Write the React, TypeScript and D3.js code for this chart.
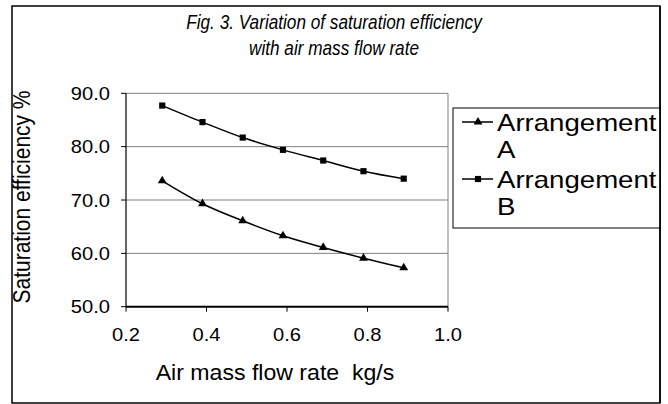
import React from "react";
import * as d3 from "d3";

const flowRate = [0.29, 0.39, 0.49, 0.59, 0.69, 0.79, 0.89];
const arrangementA = [73.6, 69.3, 66.1, 63.3, 61.1, 59.1, 57.3];
const arrangementB = [87.7, 84.6, 81.7, 79.4, 77.4, 75.4, 74.0];
const xTicks = [0.2, 0.4, 0.6, 0.8, 1.0];
const yTicks = [50, 60, 70, 80, 90];
const titleLines = ["Fig. 3. Variation of saturation efficiency", "with air mass flow rate"];
const xTitle = "Air mass flow rate  kg/s";
const yTitle = "Saturation efficiency %";
const seriesNames = [["Arrangement", "A"], ["Arrangement", "B"]];

const FONT = "'Liberation Sans', Arial, sans-serif";

export default function App() {
  const x = d3.scaleLinear().domain([0.2, 1.0]).range([126, 448]);
  const y = d3.scaleLinear().domain([50, 90]).range([306.7, 93.3]);
  const line = d3
    .line<number>()
    .x((_, i) => x(flowRate[i]))
    .y((d) => y(d))
    .curve(d3.curveCatmullRom.alpha(0.5));
  const tri = d3.symbol(d3.symbolTriangle, 34)();
  const sq = d3.symbol(d3.symbolSquare, 38)();

  const sx = 1.15;
  const T = (props: any) => {
    const { x: tx, y: ty, children, size, anchor, italic, scale } = props;
    return (
      <g transform={`translate(${tx},${ty}) scale(${scale ?? sx},1)`}>
        <text
          x={0}
          y={0}
          fontFamily={FONT}
          fontSize={size}
          fontStyle={italic ? "italic" : "normal"}
          textAnchor={anchor}
          fill="#000"
          style={{ whiteSpace: "pre" }}
        >
          {children}
        </text>
      </g>
    );
  };

  return (
    <svg width={668} height={404} style={{ position: "absolute", left: 0, top: 0, background: "#fff" }}>
      <rect x={12} y={6} width={648} height={397} fill="#fff" stroke="#000" strokeWidth={1.5} />
      {/* title */}
      <T x={334} y={29} size={20} anchor="middle" italic scale={0.86}>{titleLines[0]}</T>
      <T x={334} y={55} size={20} anchor="middle" italic scale={0.86}>{titleLines[1]}</T>

      {/* gridlines */}
      {yTicks.filter((t) => t !== 50).map((t) => (
        <line key={t} x1={x(0.2)} x2={x(1.0)} y1={y(t)} y2={y(t)} stroke="#808080" strokeWidth={1} />
      ))}
      {/* plot border right */}
      <line x1={x(1.0)} x2={x(1.0)} y1={y(90)} y2={y(50)} stroke="#808080" strokeWidth={1} />
      {/* axes */}
      <line x1={x(0.2)} x2={x(0.2)} y1={y(90)} y2={y(50)} stroke="#000" strokeWidth={1.2} />
      <line x1={x(0.2)} x2={x(1.0)} y1={y(50)} y2={y(50)} stroke="#000" strokeWidth={2} />
      {yTicks.map((t) => (
        <g key={t}>
          <line x1={x(0.2) - 5} x2={x(0.2)} y1={y(t)} y2={y(t)} stroke="#000" strokeWidth={1} />
          <T x={110} y={y(t) + 6.5} size={17.5} anchor="end">{t.toFixed(1)}</T>
        </g>
      ))}
      {xTicks.map((t) => (
        <g key={t}>
          <line x1={x(t)} x2={x(t)} y1={y(50)} y2={y(50) + 5} stroke="#000" strokeWidth={1} />
          <T x={x(t)} y={341} size={17.5} anchor="middle">{t.toFixed(1)}</T>
        </g>
      ))}
      {/* axis titles */}
      <T x={275} y={380} size={22} anchor="middle" scale={1.05}>{xTitle}</T>
      <g transform={`translate(30,197) scale(1.15,1) rotate(-90)`}>
        <text x={0} y={0} fontFamily={FONT} fontSize={21} textAnchor="middle" fill="#000">{yTitle}</text>
      </g>

      {/* series */}
      <path d={line(arrangementA) || ""} fill="none" stroke="#000" strokeWidth={1.5} />
      <path d={line(arrangementB) || ""} fill="none" stroke="#000" strokeWidth={1.5} />
      {arrangementA.map((v, i) => (
        <path key={"a" + i} d={tri} transform={`translate(${x(flowRate[i])},${y(v)})`} fill="#000" />
      ))}
      {arrangementB.map((v, i) => (
        <path key={"b" + i} d={sq} transform={`translate(${x(flowRate[i])},${y(v)})`} fill="#000" />
      ))}

      {/* legend */}
      <rect x={453} y={108} width={207} height={120} fill="#fff" stroke="#000" strokeWidth={1} />
      {seriesNames.map((nm, i) => {
        const ly = 122 + i * 57;
        return (
          <g key={i}>
            <line x1={462} x2={493} y1={ly} y2={ly} stroke="#000" strokeWidth={1.5} />
            <path d={i === 0 ? tri : sq} transform={`translate(478,${ly})`} fill="#000" />
            <T x={497} y={ly + 8.5} size={23} anchor="start" scale={1.2}>{nm[0]}</T>
            <T x={497} y={ly + 36} size={23} anchor="start" scale={1.2}>{nm[1]}</T>
          </g>
        );
      })}
      {/* right border drawn above legend text */}
      <line x1={660} x2={660} y1={6} y2={403} stroke="#000" strokeWidth={1.5} />
    </svg>
  );
}
